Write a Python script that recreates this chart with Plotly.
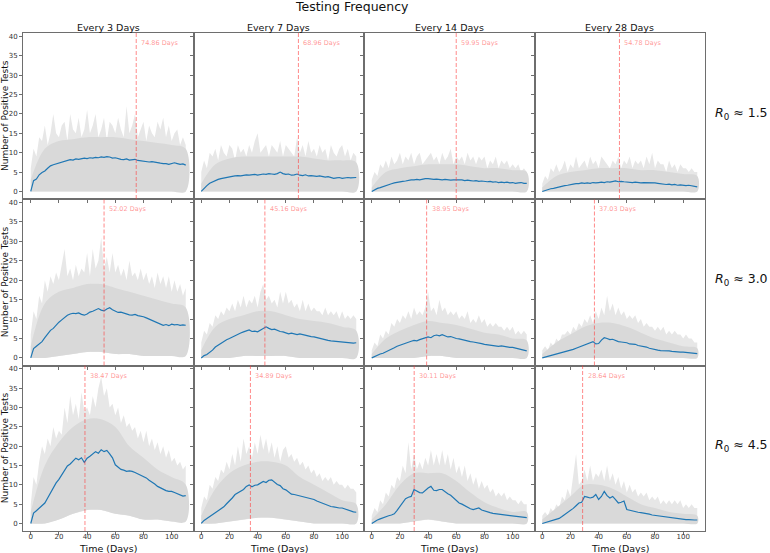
import plotly.graph_objects as go

# ---------------- data ----------------
DAYS = list(range(0, 111, 2))          # 56 points, fine grid
DAYS_COARSE = list(range(0, 111, 10))  # 12 points, coarse grid

FREQS = ["Every 3 Days", "Every 7 Days", "Every 14 Days", "Every 28 Days"]
R0_VALUES = ["1.5", "3.0", "4.5"]
PEAK_DAYS = [
    [74.86, 68.96, 59.95, 54.78],
    [52.02, 45.16, 38.95, 37.03],
    [38.47, 34.89, 30.11, 28.64],
]
Y_TICKS = [0, 5, 10, 15, 20, 25, 30, 35, 40]
X_TICKS = [0, 20, 40, 60, 80, 100]

# ---- R0 ~ 1.5 ----
MEAN_R1C1 = [0, 2.8, 3.2, 4.3, 4.9, 5.3, 6.0, 6.6,
             6.9, 7.1, 7.4, 7.6, 7.7, 8.0, 8.2, 8.1,
             8.4, 8.3, 8.5, 8.6, 8.5, 8.7, 8.6, 8.8,
             8.7, 8.9, 8.8, 9.0, 8.9, 8.6, 8.7, 8.4,
             8.3, 8.2, 8.4, 8.1, 8.2, 8.3, 8.0, 7.9,
             7.8, 7.8, 7.6, 7.7, 7.5, 7.4, 7.3, 7.2,
             7.2, 7.0, 7.3, 7.4, 7.2, 7.0, 7.1, 6.8]
MAX_R1C1 = [6, 11, 9, 14, 13, 17, 12, 15,
            20, 15, 14, 17, 18, 13, 20, 16,
            15, 19, 14, 16, 21, 15, 17, 20,
            14, 16, 19, 13, 18, 17, 15, 19,
            16, 14, 22, 15, 17, 20, 14, 16,
            18, 13, 17, 15, 14, 18, 16, 19,
            14, 17, 13, 15, 16, 12, 14, 12]
BULK_R1C1 = [3, 11, 13, 13.5, 14, 14, 14, 13.5, 13, 12.5, 12, 11]
MIN_R1C1 = [0, 0, 0, 0, 0, 0, 0, 0, 0, 0, 0, 0]

MEAN_R1C2 = [0, 0.9, 1.5, 2.1, 2.5, 2.8, 3.1, 3.3,
             3.5, 3.7, 3.8, 3.9, 4.0, 4.1, 4.0, 4.2,
             4.3, 4.2, 4.3, 4.4, 4.2, 4.3, 4.5, 4.4,
             4.6, 4.5, 4.4, 4.6, 5.0, 4.6, 4.4, 4.5,
             4.2, 4.3, 4.5, 4.2, 4.1, 4.3, 4.0, 4.1,
             4.0, 3.9, 4.0, 3.8, 3.7, 3.8, 3.6, 3.4,
             3.5, 3.6, 3.4, 3.5, 3.6, 3.5, 3.6, 3.6]
MAX_R1C2 = [5, 8, 6, 10, 9, 11, 8, 12,
            10, 9, 12, 11, 8, 12, 10, 11,
            9, 12, 10, 13, 15, 10, 11, 12,
            9, 12, 11, 10, 13, 9, 12, 11,
            10, 9, 14, 10, 12, 9, 13, 10,
            11, 9, 12, 10, 11, 8, 12, 10,
            9, 11, 12, 9, 11, 8, 10, 9]
BULK_R1C2 = [2, 7, 8.5, 9, 9, 9, 9, 9, 8.5, 8, 8, 7.5]
MIN_R1C2 = [0, 0, 0, 0, 0, 0, 0, 0, 0, 0, 0, 0]

MEAN_R1C3 = [0, 0.5, 0.8, 1.0, 1.3, 1.5, 1.7, 2.0,
             2.2, 2.4, 2.5, 2.6, 2.7, 2.9, 3.0, 3.0,
             3.1, 3.0, 3.2, 3.3, 3.3, 3.2, 3.1, 3.2,
             3.1, 3.0, 3.1, 3.0, 2.9, 3.0, 3.0, 2.9,
             3.0, 2.8, 2.9, 2.8, 2.7, 2.8, 2.6, 2.7,
             2.6, 2.5, 2.6, 2.4, 2.5, 2.3, 2.4, 2.3,
             2.4, 2.2, 2.3, 2.1, 2.2, 2.3, 2.1, 2.1]
MAX_R1C3 = [3, 5, 4, 7, 6, 8, 6, 9,
            7, 8, 10, 7, 9, 8, 10, 7,
            9, 10, 7, 8, 9, 10, 8, 9,
            7, 10, 8, 9, 11, 7, 9, 8,
            9, 7, 10, 8, 9, 7, 9, 8,
            9, 6, 8, 7, 9, 6, 8, 7,
            8, 6, 7, 6, 7, 5, 6, 5]
BULK_R1C3 = [1, 5, 6, 6.5, 7, 7, 7, 6.5, 6, 6, 5.5, 5]
MIN_R1C3 = [0, 0, 0, 0, 0, 0, 0, 0, 0, 0, 0, 0]

MEAN_R1C4 = [0, 0.3, 0.5, 0.7, 0.8, 1.0, 1.1, 1.3,
             1.5, 1.6, 1.8, 1.9, 2.0, 2.0, 2.2, 2.1,
             2.2, 2.1, 2.3, 2.2, 2.3, 2.4, 2.3, 2.5,
             2.4, 2.5, 2.7, 2.5, 2.6, 2.5, 2.4, 2.4,
             2.3, 2.4, 2.3, 2.2, 2.3, 2.3, 2.2, 2.3,
             2.2, 2.1, 2.0, 1.9, 1.8, 1.9, 1.7, 1.8,
             1.6, 1.7, 1.6, 1.5, 1.6, 1.4, 1.3, 1.2]
MAX_R1C4 = [2, 4, 3, 6, 5, 7, 5, 6,
            8, 5, 7, 6, 9, 6, 7, 8,
            6, 9, 7, 8, 6, 9, 8, 7,
            6, 8, 7, 9, 6, 8, 7, 9,
            6, 8, 7, 8, 6, 9, 7, 10,
            6, 8, 7, 7, 5, 8, 6, 7,
            5, 7, 6, 6, 5, 6, 5, 5]
BULK_R1C4 = [1, 4, 5, 5.5, 6, 6, 6, 5.5, 5.5, 5, 4.5, 4]
MIN_R1C4 = [0, 0, 0, 0, 0, 0, 0, 0, 0, 0, 0, 0]

# ---- R0 ~ 3.0 ----
MEAN_R2C1 = [0, 2.4, 3.0, 3.5, 4.2, 5.2, 6.3, 7.1,
             7.6, 8.5, 9.2, 9.8, 10.5, 11.0, 11.3, 11.5,
             11.4, 11.6, 11.2, 11.0, 11.3, 11.8, 12.0, 12.4,
             12.7, 12.3, 12.1, 12.6, 12.9, 12.4, 12.0, 11.7,
             11.8, 11.5, 11.3, 11.1, 11.0, 11.2, 10.9, 10.8,
             10.6, 10.3, 10.0, 9.6, 9.3, 9.0, 8.7, 8.4,
             8.6, 8.3, 8.7, 8.5, 8.6, 8.4, 8.5, 8.4]
MAX_R2C1 = [6, 12, 10, 16, 14, 20, 17, 21,
            19, 22, 20, 24, 28, 21, 23, 20,
            24, 21, 23, 22, 27, 21, 28, 23,
            25, 31, 23, 26, 22, 27, 22, 24,
            21, 23, 20, 25, 21, 22, 20, 23,
            20, 22, 19, 21, 18, 22, 19, 21,
            18, 21, 17, 20, 17, 19, 16, 18]
BULK_R2C1 = [3, 14, 17, 18, 19, 19, 18, 17, 16, 15, 14, 13]
MIN_R2C1 = [0, 0, 0.5, 1, 1.5, 1.5, 1, 1, 0.5, 0.5, 0.5, 0.5]

MEAN_R2C2 = [0, 0.6, 0.9, 1.4, 2.0, 2.8, 3.3, 3.9,
             4.3, 4.7, 5.0, 5.4, 5.8, 6.1, 6.4, 6.7,
             6.9, 7.2, 6.8, 6.9, 6.7, 7.2, 7.6, 8.0,
             7.6, 7.3, 7.4, 7.0, 6.8, 6.7, 6.4, 6.2,
             6.4, 6.1, 6.0, 6.2, 6.0, 5.8, 5.6, 5.5,
             5.4, 5.2, 5.0, 4.8, 4.6, 4.5, 4.4, 4.3,
             4.2, 4.1, 4.1, 4.0, 4.0, 3.9, 3.8, 3.9]
MAX_R2C2 = [4, 7, 6, 9, 8, 11, 10, 12,
            11, 13, 12, 14, 12, 15, 13, 16,
            13, 15, 14, 16, 13, 17, 19, 15,
            16, 14, 15, 13, 17, 14, 17, 14,
            15, 13, 14, 12, 15, 12, 14, 12,
            13, 12, 12, 11, 13, 11, 12, 11,
            12, 10, 12, 10, 11, 10, 11, 10]
BULK_R2C2 = [2, 8, 10, 11, 12, 12, 11, 10, 9.5, 9, 8, 7]
MIN_R2C2 = [0, 0, 0, 0.5, 0.5, 0.5, 0.5, 0, 0, 0, 0, 0]

MEAN_R2C3 = [0, 0.4, 0.7, 1.0, 1.2, 1.5, 1.9, 2.3,
             2.6, 3.0, 3.3, 3.6, 3.9, 4.1, 4.3, 4.5,
             4.4, 4.7, 5.0, 5.1, 5.4, 5.2, 5.7, 5.9,
             5.7, 6.0, 5.6, 5.4, 5.5, 5.2, 5.0, 4.9,
             4.7, 4.5, 4.4, 4.2, 4.1, 4.0, 3.8, 3.7,
             3.5, 3.4, 3.3, 3.2, 3.1, 3.0, 3.1, 2.9,
             2.8, 2.7, 2.7, 2.5, 2.3, 2.1, 1.9, 1.8]
MAX_R2C3 = [2, 4, 3, 6, 5, 7, 6, 9,
            8, 10, 9, 11, 10, 12, 10, 13,
            11, 12, 11, 13, 17, 12, 13, 11,
            15, 12, 13, 11, 12, 11, 12, 10,
            11, 10, 12, 9, 10, 9, 11, 9,
            10, 8, 9, 8, 9, 8, 8, 7,
            8, 7, 8, 6, 7, 6, 7, 6]
BULK_R2C3 = [1, 5, 7, 8.5, 9.5, 9, 8.5, 7.5, 6.5, 6, 5, 4.5]
MIN_R2C3 = [0, 0, 0, 0, 0.5, 0.5, 0, 0, 0, 0, 0, 0]

MEAN_R2C4 = [0, 0.2, 0.4, 0.5, 0.7, 0.9, 1.1, 1.3,
             1.5, 1.8, 2.0, 2.2, 2.5, 2.8, 3.0, 3.3,
             3.6, 3.9, 4.2, 3.6, 3.7, 4.6, 5.2, 5.0,
             4.7, 4.8, 4.4, 4.2, 4.1, 4.0, 3.9, 3.6,
             3.6, 3.5, 3.2, 3.1, 3.0, 2.8, 2.5, 2.3,
             2.1, 2.0, 1.9, 1.9, 1.8, 1.8, 1.7, 1.6,
             1.6, 1.5, 1.5, 1.4, 1.3, 1.2, 1.2, 1.1]
MAX_R2C4 = [2, 3, 2, 4, 3, 5, 4, 6,
            6, 7, 6, 8, 7, 9, 8, 10,
            9, 11, 9, 12, 10, 13, 11, 16,
            12, 14, 11, 13, 11, 12, 10, 11,
            10, 11, 9, 10, 8, 9, 8, 8,
            7, 8, 7, 8, 6, 7, 6, 7,
            6, 6, 5, 6, 5, 5, 4, 4]
BULK_R2C4 = [1, 4, 6, 8, 9, 9, 8, 6.5, 5, 4, 3, 2.5]
MIN_R2C4 = [0, 0, 0, 0, 0, 0, 0, 0, 0, 0, 0, 0]

# ---- R0 ~ 4.5 ----
MEAN_R3C1 = [0, 2.7, 3.3, 3.9, 4.6, 5.3, 6.6, 8.0,
             9.4, 10.5, 11.4, 12.6, 13.8, 14.9, 15.4, 16.1,
             16.9, 16.5, 17.0, 15.8, 16.9, 17.4, 18.0, 18.6,
             18.2, 19.1, 18.6, 18.9, 18.0, 17.0, 15.2, 14.7,
             14.0, 13.8, 13.5, 13.6, 13.5, 13.2, 12.9, 12.6,
             12.2, 11.8, 11.2, 10.8, 10.2, 9.6, 9.2, 8.9,
             8.5, 8.3, 8.3, 8.0, 7.7, 7.4, 7.1, 7.2]
MAX_R3C1 = [5, 12, 10, 16, 20, 18, 22, 20,
            25, 22, 24, 23, 30, 26, 33, 28,
            31, 27, 34, 29, 30, 28, 33, 30,
            35, 38, 33, 35, 30, 31, 28, 30,
            26, 28, 25, 26, 24, 25, 22, 24,
            21, 24, 20, 22, 19, 21, 18, 20,
            17, 19, 16, 17, 15, 16, 14, 15]
BULK_R3C1 = [3, 15, 21, 25, 27, 27, 25, 20, 17, 14, 12, 10]
MIN_R3C1 = [0, 0, 1, 2.5, 3.5, 3.5, 2.5, 2, 1, 1, 0.5, 0.5]

MEAN_R3C2 = [0, 0.8, 1.3, 1.8, 2.3, 2.8, 3.3, 3.8,
             4.3, 5.1, 5.8, 6.6, 7.5, 8.0, 8.5, 8.8,
             9.6, 10.0, 9.5, 9.9, 10.0, 10.4, 10.9, 10.6,
             11.2, 11.3, 10.7, 10.1, 9.8, 9.0, 8.7, 8.1,
             7.6, 7.5, 7.3, 7.2, 7.0, 6.8, 6.5, 6.3,
             6.2, 5.8, 5.5, 5.1, 4.8, 4.6, 4.4, 4.3,
             4.1, 4.0, 4.0, 3.7, 3.5, 3.3, 3.0, 2.9]
MAX_R3C2 = [4, 7, 6, 10, 9, 12, 11, 14,
            13, 16, 14, 18, 15, 20, 16, 22,
            18, 20, 17, 21, 18, 23, 19, 22,
            18, 21, 17, 20, 16, 19, 20, 17,
            18, 16, 17, 15, 16, 14, 15, 13,
            14, 12, 13, 11, 12, 11, 12, 10,
            11, 10, 10, 9, 10, 9, 9, 8]
BULK_R3C2 = [2, 9, 13, 15, 16, 16, 15, 12, 10, 8, 6, 5]
MIN_R3C2 = [0, 0, 0.5, 1, 1.5, 1.5, 1, 0.5, 0, 0, 0, 0]

MEAN_R3C3 = [0, 0.5, 0.9, 1.2, 1.5, 1.9, 2.0, 2.2,
             2.5, 3.4, 4.5, 5.5, 6.4, 6.8, 7.0, 8.8,
             8.4, 8.0, 7.9, 8.6, 9.2, 9.6, 8.6, 8.5,
             8.8, 8.8, 8.2, 7.7, 7.3, 6.6, 5.8, 5.3,
             5.0, 4.6, 4.1, 3.8, 3.6, 3.8, 4.0, 3.5,
             3.2, 3.0, 2.8, 2.6, 2.5, 2.4, 2.3, 2.3,
             2.2, 2.1, 2.1, 2.0, 1.9, 1.8, 1.7, 1.5]
MAX_R3C3 = [2, 4, 3, 6, 5, 8, 7, 10,
            9, 12, 11, 15, 13, 21, 14, 18,
            14, 16, 14, 17, 15, 19, 15, 18,
            15, 19, 15, 18, 14, 17, 13, 15,
            12, 15, 11, 13, 10, 12, 9, 11,
            9, 10, 8, 9, 7, 8, 7, 8,
            6, 7, 6, 6, 5, 6, 5, 5]
BULK_R3C3 = [1, 5, 10, 13, 13, 13, 11, 8, 5.5, 4, 3, 3]
MIN_R3C3 = [0, 0, 0, 0.5, 1, 0.5, 0, 0, 0, 0, 0, 0]

MEAN_R3C4 = [0, 0.2, 0.4, 0.6, 0.8, 1.0, 1.3, 1.8,
             2.3, 2.8, 3.2, 3.9, 4.6, 5.3, 5.5, 7.0,
             6.8, 6.6, 6.8, 7.5, 6.2, 7.0, 8.3, 7.2,
             6.6, 7.0, 6.2, 5.3, 5.5, 5.8, 3.6, 3.4,
             3.2, 3.0, 2.9, 2.8, 2.7, 2.6, 2.4, 2.2,
             2.1, 1.9, 1.8, 1.7, 1.6, 1.5, 1.4, 1.3,
             1.2, 1.1, 1.0, 1.0, 1.0, 0.9, 0.9, 0.9]
MAX_R3C4 = [2, 3, 2, 4, 3, 5, 4, 7,
            6, 9, 7, 12, 18, 10, 11, 14,
            11, 15, 11, 13, 12, 14, 11, 15,
            11, 13, 10, 12, 9, 11, 8, 10,
            8, 9, 7, 8, 7, 8, 6, 7,
            6, 7, 5, 6, 5, 6, 5, 6,
            5, 6, 4, 5, 4, 5, 4, 4]
BULK_R3C4 = [1, 4, 7, 10, 10, 9, 7, 5, 4, 3, 2.5, 2]
MIN_R3C4 = [0, 0, 0, 0, 0, 0, 0, 0, 0, 0, 0, 0]

MEANS = [[MEAN_R1C1, MEAN_R1C2, MEAN_R1C3, MEAN_R1C4],
         [MEAN_R2C1, MEAN_R2C2, MEAN_R2C3, MEAN_R2C4],
         [MEAN_R3C1, MEAN_R3C2, MEAN_R3C3, MEAN_R3C4]]
MAXS = [[MAX_R1C1, MAX_R1C2, MAX_R1C3, MAX_R1C4],
        [MAX_R2C1, MAX_R2C2, MAX_R2C3, MAX_R2C4],
        [MAX_R3C1, MAX_R3C2, MAX_R3C3, MAX_R3C4]]
BULKS = [[BULK_R1C1, BULK_R1C2, BULK_R1C3, BULK_R1C4],
         [BULK_R2C1, BULK_R2C2, BULK_R2C3, BULK_R2C4],
         [BULK_R3C1, BULK_R3C2, BULK_R3C3, BULK_R3C4]]
MINS = [[MIN_R1C1, MIN_R1C2, MIN_R1C3, MIN_R1C4],
        [MIN_R2C1, MIN_R2C2, MIN_R2C3, MIN_R2C4],
        [MIN_R3C1, MIN_R3C2, MIN_R3C3, MIN_R3C4]]

# ---------------- layout ----------------
W, H = 770, 553
FONT = "DejaVu Sans"
COL_PX = [23, 193.5, 364, 534.5, 705]
ROW_PX = [33, 199, 365.5, 531]
SPINE = "#6e6e6e"
RED = "rgba(255,60,60,0.6)"

fig = go.Figure()
layout = dict(
    width=W, height=H,
    margin=dict(l=0, r=0, t=0, b=0, autoexpand=False),
    paper_bgcolor="white", plot_bgcolor="white",
    showlegend=False,
    font=dict(family=FONT, color="#222"),
)
annotations = []
shapes = []

for r in range(3):
    for c in range(4):
        idx = r * 4 + c + 1
        xa = "xaxis" if idx == 1 else f"xaxis{idx}"
        ya = "yaxis" if idx == 1 else f"yaxis{idx}"
        xr = "x" if idx == 1 else f"x{idx}"
        yr = "y" if idx == 1 else f"y{idx}"
        layout[xa] = dict(
            domain=[COL_PX[c] / W, COL_PX[c + 1] / W],
            anchor=yr, range=[-5.5, 115.5],
            tickvals=X_TICKS, showticklabels=(r == 2),
            ticks="outside", ticklen=3, tickwidth=1, tickcolor=SPINE,
            showline=True, mirror=True, linecolor=SPINE, linewidth=1,
            showgrid=False, zeroline=False,
            tickfont=dict(size=7, color="#333", family=FONT),
        )
        layout[ya] = dict(
            domain=[1 - ROW_PX[r + 1] / H, 1 - ROW_PX[r] / H],
            anchor=xr, range=[-1.95, 40.9],
            tickvals=Y_TICKS, showticklabels=(c == 0),
            ticks="outside", ticklen=3, tickwidth=1, tickcolor=SPINE,
            showline=True, mirror=True, linecolor=SPINE, linewidth=1,
            showgrid=False, zeroline=False,
            tickfont=dict(size=7, color="#333", family=FONT),
        )
        # outer (extreme) band
        fig.add_trace(go.Scatter(
            x=DAYS + DAYS_COARSE[::-1],
            y=MAXS[r][c] + MINS[r][c][::-1],
            fill="toself", fillcolor="rgb(231,231,231)",
            line=dict(width=0), mode="lines", hoverinfo="skip",
            xaxis=xr, yaxis=yr))
        # dense band
        fig.add_trace(go.Scatter(
            x=DAYS_COARSE + DAYS_COARSE[::-1],
            y=BULKS[r][c] + MINS[r][c][::-1],
            fill="toself", fillcolor="rgb(217,217,217)",
            line=dict(width=0, shape="spline"), mode="lines", hoverinfo="skip",
            xaxis=xr, yaxis=yr))
        # mean line
        fig.add_trace(go.Scatter(
            x=DAYS, y=MEANS[r][c], mode="lines",
            line=dict(color="#1f77b4", width=1.2),
            hoverinfo="skip", xaxis=xr, yaxis=yr))
        # peak vertical line
        peak = PEAK_DAYS[r][c]
        shapes.append(dict(
            type="line", xref=xr, yref=f"{yr} domain",
            x0=peak, x1=peak, y0=0, y1=1,
            line=dict(color=RED, width=1, dash="4px,2px")))
        annotations.append(dict(
            x=peak, y=38.3, xref=xr, yref=yr,
            text=f"{peak:.2f} Days", showarrow=False,
            xanchor="left", yanchor="middle", xshift=3,
            font=dict(size=6.5, color="rgba(255,60,60,0.55)", family=FONT)))

# column titles and x titles
for c, name in enumerate(FREQS):
    annotations.append(dict(
        x=(COL_PX[c] + COL_PX[c + 1]) / 2 / W, y=1 - 27 / H,
        xref="paper", yref="paper", text=name, showarrow=False,
        xanchor="center", yanchor="middle",
        font=dict(size=9.5, color="#111", family=FONT)))
    annotations.append(dict(
        x=(COL_PX[c] + COL_PX[c + 1]) / 2 / W, y=1 - 548 / H,
        xref="paper", yref="paper", text="Time (Days)", showarrow=False,
        xanchor="center", yanchor="middle",
        font=dict(size=9.5, color="#111", family=FONT)))

# row labels & y titles
for r, r0 in enumerate(R0_VALUES):
    yc = (ROW_PX[r] + ROW_PX[r + 1]) / 2
    annotations.append(dict(
        x=713 / W, y=1 - (yc - 3) / H, xref="paper", yref="paper",
        text=f"<i>R</i><sub>0</sub> \u2248 {r0}", showarrow=False,
        xanchor="left", yanchor="middle",
        font=dict(size=12.5, color="#111", family=FONT)))
    annotations.append(dict(
        x=5 / W, y=1 - yc / H, xref="paper", yref="paper",
        text="Number of Positive Tests", showarrow=False, textangle=-90,
        xanchor="center", yanchor="middle",
        font=dict(size=9, color="#111", family=FONT)))

# suptitle
annotations.append(dict(
    x=352 / W, y=1 - 6 / H, xref="paper", yref="paper",
    text="Testing Frequency", showarrow=False,
    xanchor="center", yanchor="middle",
    font=dict(size=12.5, color="#111", family=FONT)))

layout["annotations"] = annotations
layout["shapes"] = shapes
fig.update_layout(**layout)

# pull the bottom tick labels a little closer to the axis
try:
    fig.update_xaxes(ticklabelstandoff=-4)
except Exception:
    pass

fig.write_html(
    "out.html",
    config={"displayModeBar": False},
    post_script="document.body.style.margin='0';document.body.style.overflow='hidden';",
)
